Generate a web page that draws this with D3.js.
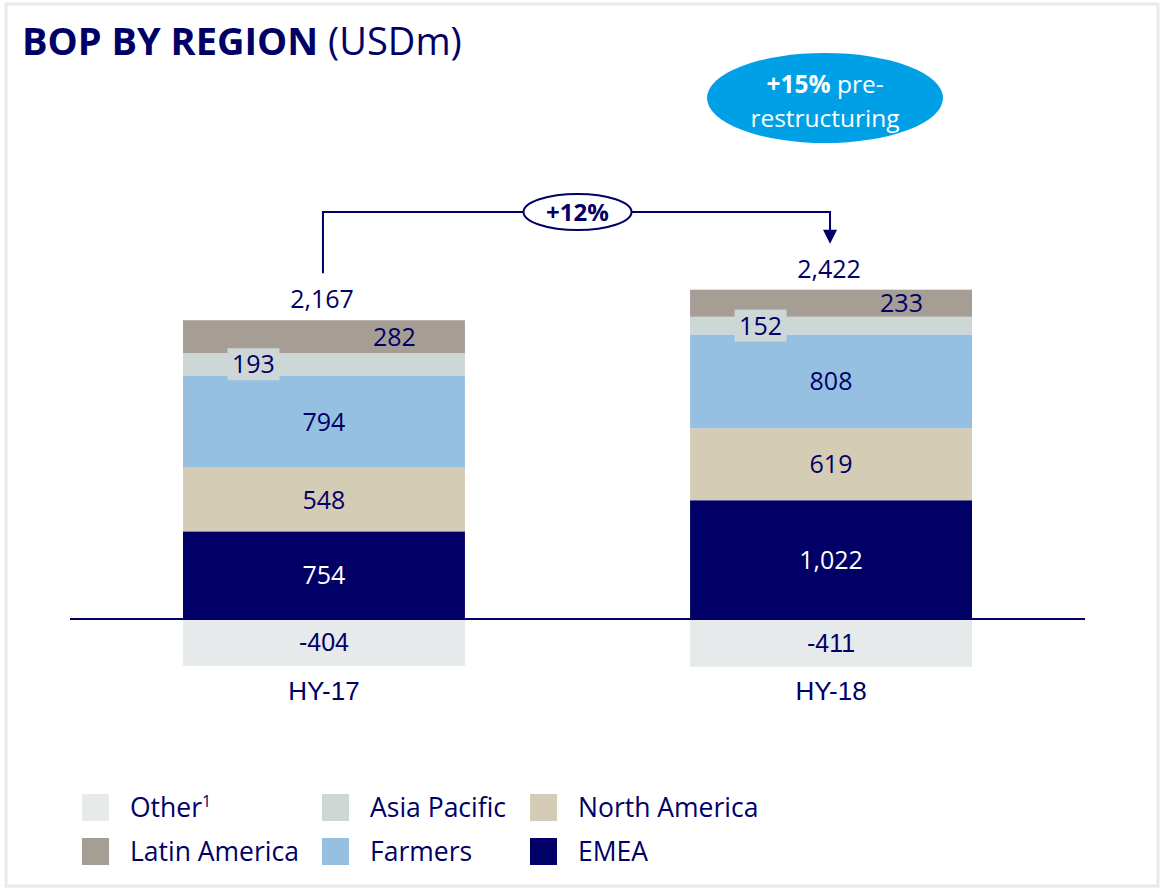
<!DOCTYPE html>
<html><head><meta charset="utf-8">
<script src="https://cdn.jsdelivr.net/npm/d3@7"></script>
<style>
html,body{margin:0;padding:0;background:#fff;}
svg{display:block;}
text{font-family:"Open Sans","Noto Sans",sans-serif;}
</style></head>
<body>
<svg id="chart" width="1162" height="889"></svg>
<script>
const categories = ["HY-17", "HY-18"];
const seriesNames = ["EMEA", "North America", "Farmers", "Asia Pacific", "Latin America"];
const emea = [754, 1022];
const northAmerica = [548, 619];
const farmers = [794, 808];
const asiaPacific = [193, 152];
const latinAmerica = [282, 233];
const other = [-404, -411];
const totals = [2167, 2422];
const totalLabels = ["2,167", "2,422"];
const valueLabels = {
  "EMEA": ["754", "1,022"],
  "North America": ["548", "619"],
  "Farmers": ["794", "808"],
  "Asia Pacific": ["193", "152"],
  "Latin America": ["282", "233"]
};
const otherLabels = ["-404", "-411"];
const growthLabel = "+12%";
const legendItems = [
  ["Other", "1"], ["Asia Pacific", ""], ["North America", ""],
  ["Latin America", ""], ["Farmers", ""], ["EMEA", ""]
];

const colors = {
  "EMEA": "#000066",
  "North America": "#d5ccb5",
  "Farmers": "#96c0e2",
  "Asia Pacific": "#cdd7d6",
  "Latin America": "#a69d94",
  "Other": "#e6eaea"
};
const navy = "#000066";

const svg = d3.select("#chart");

// frame
svg.append("rect").attr("x", 6).attr("y", 4).attr("width", 1152).attr("height", 882)
  .attr("fill", "none").attr("stroke", "#e6eaea").attr("stroke-width", 3);

// title
const title = svg.append("text").attr("x", 22).attr("y", 55).attr("fill", navy)
  .style("font-size", "38px");
title.append("tspan").attr("font-weight", "bold").text("BOP BY REGION");
title.append("tspan").text(" (USDm)");

const x = d3.scaleBand().domain(categories).range([183, 972]).paddingInner(0.444).paddingOuter(0);
const y = d3.scaleLinear().domain([-600, 3000]).range([688.7, 270.4]);

const rows = categories.map((c, i) => ({
  cat: c,
  "EMEA": emea[i], "North America": northAmerica[i], "Farmers": farmers[i],
  "Asia Pacific": asiaPacific[i], "Latin America": latinAmerica[i]
}));
const stacked = d3.stack().keys(seriesNames)(rows);

const bw = x.bandwidth();

// negative "Other" bars
svg.append("g").selectAll("rect").data(categories).join("rect")
  .attr("x", d => x(d)).attr("width", bw)
  .attr("y", y(0)).attr("height", (d, i) => y(other[i]) - y(0))
  .attr("fill", colors["Other"]);

// stacked bars
stacked.forEach(layer => {
  svg.append("g").selectAll("rect").data(layer).join("rect")
    .attr("x", d => x(d.data.cat)).attr("width", bw)
    .attr("y", d => y(d[1])).attr("height", d => y(d[0]) - y(d[1]))
    .attr("fill", colors[layer.key]);
});

// zero line
svg.append("line").attr("x1", 70).attr("x2", 1085).attr("y1", y(0)).attr("y2", y(0))
  .attr("stroke", navy).attr("stroke-width", 2);

// value labels
stacked.forEach(layer => {
  const key = layer.key;
  layer.forEach((d, i) => {
    let cx = x(d.data.cat) + bw / 2;
    if (key === "Asia Pacific") cx = x(d.data.cat) + bw * 0.25;
    if (key === "Latin America") cx = x(d.data.cat) + bw * 0.75;
    const cy = (y(d[0]) + y(d[1])) / 2;
    if (key === "Asia Pacific") {
      svg.append("rect").attr("x", cx - 26).attr("y", cy - 16).attr("width", 52).attr("height", 32)
        .attr("fill", colors["Asia Pacific"]);
    }
    svg.append("text").attr("x", cx).attr("y", cy).attr("dy", "0.36em")
      .attr("text-anchor", "middle").attr("fill", key === "EMEA" ? "#ffffff" : navy)
      .style("font-size", "25px").text(valueLabels[key][i]);
  });
});

// other labels
categories.forEach((c, i) => {
  svg.append("text").attr("x", x(c) + bw / 2).attr("y", (y(0) + y(other[i])) / 2).attr("dy", "0.36em")
    .attr("text-anchor", "middle").attr("fill", navy)
    .style("font-family", "'Liberation Sans Narrow','Liberation Sans',sans-serif")
    .style("font-size", "25px").text(otherLabels[i]);
  svg.append("text").attr("x", x(c) + bw / 2).attr("y", 700)
    .attr("text-anchor", "middle").attr("fill", navy)
    .style("font-family", "'Liberation Sans Narrow','Liberation Sans',sans-serif")
    .style("font-size", "26px").text(c);
});

// totals
const tops = stacked[stacked.length - 1];
categories.forEach((c, i) => {
  svg.append("text").attr("x", x(c) + bw / 2 - 2).attr("y", y(tops[i][1]) - 12)
    .attr("text-anchor", "middle").attr("fill", navy)
    .style("font-size", "25px").text(totalLabels[i]);
});

// connector
const lx = x(categories[0]) + bw / 2 - 1;
const rx = x(categories[1]) + bw / 2 - 1;
const ly = 212;
svg.append("path")
  .attr("d", `M${lx},${y(tops[0][1]) - 47}V${ly}H${rx}V${y(tops[1][1]) - 58}`)
  .attr("fill", "none").attr("stroke", navy).attr("stroke-width", 2);
const tipY = y(tops[1][1]) - 46;
svg.append("path")
  .attr("d", `M${rx - 7},${tipY - 14}L${rx + 7},${tipY - 14}L${rx},${tipY}Z`)
  .attr("fill", navy);
const ex = (lx + rx) / 2 + 1;
svg.append("ellipse").attr("cx", ex).attr("cy", ly).attr("rx", 54).attr("ry", 18)
  .attr("fill", "#fff").attr("stroke", navy).attr("stroke-width", 2);
svg.append("text").attr("x", ex).attr("y", ly).attr("dy", "0.36em").attr("text-anchor", "middle")
  .attr("fill", navy).attr("font-weight", "bold").style("font-size", "24px").text(growthLabel);

// blue bubble
svg.append("ellipse").attr("cx", 825).attr("cy", 98).attr("rx", 118).attr("ry", 45).attr("fill", "#00a0e6");
const b1 = svg.append("text").attr("x", 825).attr("y", 93).attr("text-anchor", "middle")
  .attr("fill", "#fff").style("font-size", "24.5px");
b1.append("tspan").attr("font-weight", "bold").text("+15%");
b1.append("tspan").text(" pre-");
svg.append("text").attr("x", 825).attr("y", 126.5).attr("text-anchor", "middle")
  .attr("fill", "#fff").style("font-size", "24.5px").text("restructuring");

// legend
const legX = [82, 322, 530];
const legY = [794, 838];
legendItems.forEach((it, i) => {
  const col = i % 3, row = Math.floor(i / 3);
  const g = svg.append("g").attr("transform", `translate(${legX[col]},${legY[row]})`);
  g.append("rect").attr("width", 27).attr("height", 27).attr("fill", colors[it[0]]);
  const t = g.append("text").attr("x", 48).attr("y", 23).attr("fill", navy).style("font-size", "26.5px");
  t.append("tspan").text(it[0]);
  if (it[1]) t.append("tspan").attr("dy", -10).style("font-size", "16px").text(it[1]);
});
</script>
</body></html>
